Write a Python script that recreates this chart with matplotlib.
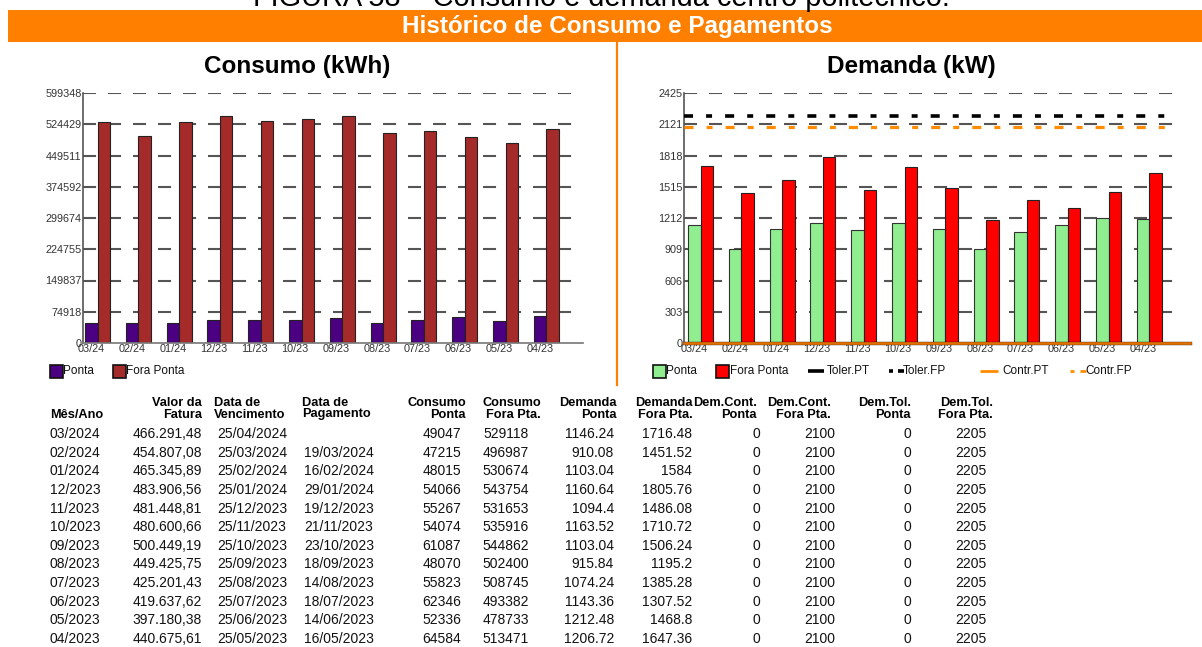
import numpy as np
import matplotlib
matplotlib.use("Agg")
import matplotlib.pyplot as plt
from matplotlib.patches import Rectangle
from matplotlib.lines import Line2D

plt.rcParams['font.family'] = ['Liberation Sans', 'DejaVu Sans']
plt.rcParams['lines.scale_dashes'] = False

# ---------------- data ----------------
mes_ano = ["03/2024", "02/2024", "01/2024", "12/2023", "11/2023", "10/2023",
           "09/2023", "08/2023", "07/2023", "06/2023", "05/2023", "04/2023"]
valor_fatura = [466291.48, 454807.08, 465345.89, 483906.56, 481448.81, 480600.66,
                500449.19, 449425.75, 425201.43, 419637.62, 397180.38, 440675.61]
data_venc = ["25/04/2024", "25/03/2024", "25/02/2024", "25/01/2024", "25/12/2023", "25/11/2023",
             "25/10/2023", "25/09/2023", "25/08/2023", "25/07/2023", "25/06/2023", "25/05/2023"]
data_pag = ["", "19/03/2024", "16/02/2024", "29/01/2024", "19/12/2023", "21/11/2023",
            "23/10/2023", "18/09/2023", "14/08/2023", "18/07/2023", "14/06/2023", "16/05/2023"]
consumo_ponta = [49047, 47215, 48015, 54066, 55267, 54074, 61087, 48070, 55823, 62346, 52336, 64584]
consumo_fora = [529118, 496987, 530674, 543754, 531653, 535916, 544862, 502400, 508745, 493382, 478733, 513471]
demanda_ponta = [1146.24, 910.08, 1103.04, 1160.64, 1094.4, 1163.52, 1103.04, 915.84, 1074.24, 1143.36, 1212.48, 1206.72]
demanda_fora = [1716.48, 1451.52, 1584, 1805.76, 1486.08, 1710.72, 1506.24, 1195.2, 1385.28, 1307.52, 1468.8, 1647.36]
dem_cont_ponta = [0] * 12
dem_cont_fora = [2100] * 12
dem_tol_ponta = [0] * 12
dem_tol_fora = [2205] * 12

consumo_ticks = [0, 74918, 149837, 224755, 299674, 374592, 449511, 524429, 599348]
demanda_ticks = [0, 303, 606, 909, 1212, 1515, 1818, 2121, 2425]
month_labels = [m[:3] + m[5:] for m in mes_ano]

W, H = 1202, 647
fig = plt.figure(figsize=(W / 100, H / 100), dpi=100)
fig.patch.set_facecolor('white')


def fx(px):
    return px / W


def fy(py):
    return 1 - py / H


ORANGE = '#FF8000'

# partial caption at the top (cut off)
fig.text(fx(601), fy(6.5), "FIGURA 58 – Consumo e demanda centro politécnico.",
         ha='center', va='baseline', fontsize=20.8, color='black')

# banner
fig.patches.append(Rectangle((fx(8), fy(42)), fx(1202) - fx(8), fy(10) - fy(42),
                             transform=fig.transFigure, facecolor=ORANGE, edgecolor='none', zorder=0))
fig.text(fx(617), fy(26.5), "Histórico de Consumo e Pagamentos", ha='center', va='center',
         fontsize=17.5, fontweight='bold', color='white')
# divider
fig.add_artist(Line2D([fx(617), fx(617)], [fy(42), fy(385)], transform=fig.transFigure,
                      color=ORANGE, lw=1.6))

SP = 40.8      # px per group
BW = 12.5 / SP  # bar width in group units
GRID_END = (572 - 85) / SP


def make_axes(x0, x1, first_bar):
    ax = fig.add_axes([fx(x0), fy(343), fx(x1) - fx(x0), fy(93) - fy(343)])
    ax.set_xlim((x0 - first_bar) / SP, (x1 - first_bar) / SP)
    for s in ['top', 'right']:
        ax.spines[s].set_visible(False)
    ax.spines['left'].set_color('#555555')
    ax.spines['bottom'].set_color('#777777')
    ax.spines['left'].set_linewidth(1.2)
    ax.spines['bottom'].set_linewidth(1.2)
    ax.tick_params(axis='both', length=0, labelsize=7.8, labelcolor='#333333', pad=1)
    ax.set_facecolor('none')
    return ax


def draw_grid(ax, ticks, xmin):
    for t in ticks[1:]:
        ax.plot([xmin, GRID_END], [t, t], color='#555555', lw=1.5,
                dashes=(9.4, 8.6), zorder=0.5)


pos = np.arange(12)

# ---------------- Consumo chart ----------------
ax1 = make_axes(83, 583, 85)
ax1.set_ylim(0, consumo_ticks[-1])
ax1.set_yticks(consumo_ticks)
ax1.set_yticklabels([str(t) for t in consumo_ticks])
draw_grid(ax1, consumo_ticks, (83 - 85) / SP)
ax1.bar(pos, consumo_ponta, width=BW, align='edge', color='#4B0082', edgecolor='#222222', lw=0.8, zorder=2)
ax1.bar(pos + BW, consumo_fora, width=BW, align='edge', color='#A52A2A', edgecolor='#222222', lw=0.8, zorder=2)
ax1.set_xticks(pos + BW / 2)
ax1.set_xticklabels(month_labels)
fig.text(fx(297), fy(67), "Consumo (kWh)", ha='center', va='center', fontsize=17.5, fontweight='bold')

# ---------------- Demanda chart ----------------
ax2 = make_axes(684, 1190, 688)
ax2.set_ylim(0, demanda_ticks[-1])
ax2.set_yticks(demanda_ticks)
ax2.set_yticklabels([str(t) for t in demanda_ticks])
GRID_END = (1175 - 688) / SP
draw_grid(ax2, demanda_ticks, (684 - 688) / SP)
ax2.bar(pos, demanda_ponta, width=BW, align='edge', color='#90EE90', edgecolor='#333333', lw=0.8, zorder=2)
ax2.bar(pos + BW, demanda_fora, width=BW, align='edge', color='#FF0000', edgecolor='#222222', lw=0.8, zorder=2)
ax2.set_xticks(pos + BW / 2)
ax2.set_xticklabels(month_labels)
xs = np.r_[pos - 0.1, 11.95]
ax2.step(xs, dem_tol_fora + [dem_tol_fora[-1]], where='post', color='black', lw=2.6,
         dashes=(6.5, 9.4, 4.3, 9.4), zorder=3)
ax2.step(xs, dem_cont_fora + [dem_cont_fora[-1]], where='post', color='#FF8C00', lw=2.3,
         dashes=(6.5, 9.4, 4.3, 9.4), zorder=3)
xs0 = np.r_[pos - 0.1, 12.3]
ax2.step(xs0, dem_tol_ponta + [dem_tol_ponta[-1]], where='post', color='black', lw=2.4, zorder=3, clip_on=False)
ax2.step(xs0, dem_cont_ponta + [dem_cont_ponta[-1]], where='post', color='#E07000', lw=2.0, zorder=3.1, clip_on=False)
fig.text(fx(911), fy(67), "Demanda (kW)", ha='center', va='center', fontsize=17.5, fontweight='bold')

# ---------------- legends ----------------
LY = 371


def leg_patch(x, color, label):
    fig.patches.append(Rectangle((fx(x), fy(LY + 6.5)), 13 / W, 13 / H, transform=fig.transFigure,
                                 facecolor=color, edgecolor='#111111', lw=1.2))
    fig.text(fx(x + 13.5), fy(LY), label, ha='left', va='center', fontsize=8.5, color='#111111')


def leg_line(segs, color, lw, label, tx):
    for a, b in segs:
        fig.add_artist(Line2D([fx(a), fx(b)], [fy(LY), fy(LY)], transform=fig.transFigure,
                              color=color, lw=lw, solid_capstyle='butt'))
    fig.text(fx(tx), fy(LY), label, ha='left', va='center', fontsize=8.5, color='#111111')


leg_patch(50, '#4B0082', 'Ponta')
leg_patch(113, '#A52A2A', 'Fora Ponta')
leg_patch(653, '#90EE90', 'Ponta')
leg_patch(716, '#FF0000', 'Fora Ponta')
leg_line([(808, 824)], 'black', 2.6, 'Toler.PT', 827)
leg_line([(889, 893), (898, 904)], 'black', 2.6, 'Toler.FP', 903)
leg_line([(980, 998)], '#FF8C00', 2.0, 'Contr.PT', 1002)
leg_line([(1070, 1074), (1080, 1086)], '#FF8C00', 2.0, 'Contr.FP', 1085)

# ---------------- table ----------------
HFS = 9.2
DFS = 10
H1, H2 = 403, 414.5
fig.text(fx(50), fy(H2), "Mês/Ano", ha='left', va='center', fontsize=HFS, fontweight='bold')

headers = [
    ("Valor da", "Fatura", 'right', 202),
    ("Data de", "Vencimento", 'left', 214),
    ("Data de", "Pagamento", 'left', 302),
    ("Consumo", "Ponta", 'right', 466),
    ("Consumo", "Fora Pta.", 'right', 541),
    ("Demanda", "Ponta", 'right', 617),
    ("Demanda", "Fora Pta.", 'right', 693),
    ("Dem.Cont.", "Ponta", 'right', 757),
    ("Dem.Cont.", "Fora Pta.", 'right', 831),
    ("Dem.Tol.", "Ponta", 'right', 911),
    ("Dem.Tol.", "Fora Pta.", 'right', 993),
]
for l1, l2, ha, x in headers:
    fig.text(fx(x), fy(H1), l1, ha=ha, va='center', fontsize=HFS, fontweight='bold')
    fig.text(fx(x), fy(H2), l2, ha=ha, va='center', fontsize=HFS, fontweight='bold')


def br(v):
    s = f"{v:,.2f}"
    return s.replace(',', 'X').replace('.', ',').replace('X', '.')


columns = [
    (mes_ano, 'left', 50),
    ([br(v) for v in valor_fatura], 'right', 202),
    (data_venc, 'center', 252),
    (data_pag, 'center', 339),
    ([str(v) for v in consumo_ponta], 'right', 461),
    ([str(v) for v in consumo_fora], 'right', 529),
    ([f"{v:g}" for v in demanda_ponta], 'right', 614),
    ([f"{v:g}" for v in demanda_fora], 'right', 692),
    ([str(v) for v in dem_cont_ponta], 'center', 756),
    ([str(v) for v in dem_cont_fora], 'center', 820),
    ([str(v) for v in dem_tol_ponta], 'center', 907),
    ([str(v) for v in dem_tol_fora], 'right', 986),
]
for vals, ha, x in columns:
    for i, v in enumerate(vals):
        fig.text(fx(x), fy(434 + 18.63 * i), v, ha=ha, va='center', fontsize=DFS, color='#111111')

fig.savefig("out.png", dpi=100)
